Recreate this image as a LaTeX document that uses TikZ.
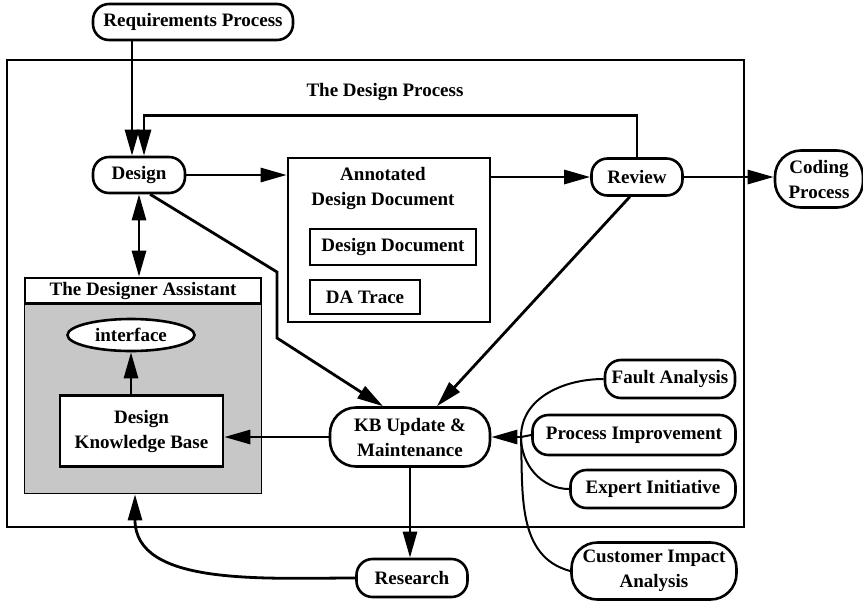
\documentclass[tikz,border=0pt]{standalone}
\usepackage{fontspec}
\setmainfont{Liberation Serif}
\usepackage{tikz}
\usetikzlibrary{calc}
\usetikzlibrary{arrows.meta}
\usetikzlibrary{shapes.geometric}

\begin{document}
\begin{tikzpicture}[%
    x=0.5pt, y=-0.5pt,
    font=\fontsize{9.5}{12.5}\selectfont\bfseries,
    process/.style={
      rectangle,
      rounded corners=8pt,
      draw=black,
      line width=1.3pt,
      align=center,
      inner sep=1pt,
      fill=white
    },
    block/.style={
      rectangle,
      draw=black,
      line width=1.3pt,
      align=center,
      inner sep=1pt
    },
    link/.style={line width=1.4pt},
    feed/.style={line width=1pt},
    shade/.style={fill=black!22},
    >={Triangle[length=13pt,width=7pt]}
    ]
    \useasboundingbox (0,0) rectangle (863,601);

    % outer process box
    \draw (375.5,293.5) node[block, line width=1.1pt, minimum width=368.5pt, minimum height=233.5pt] (dp) {};
    \draw (385,92) node (dptitle) {The Design Process};

    \draw (193,22) node[process, minimum width=100pt, minimum height=18pt] (req) {Requirements Process};
    \draw (139,175) node[process, minimum width=46pt, minimum height=18pt] (design) {Design};
    \draw (637,177) node[process, minimum width=45.5pt, minimum height=18.5pt] (review) {Review};
    \draw (819,179) node[process, rounded corners=13pt, minimum width=44pt, minimum height=28.5pt] (coding) {Coding\\Process};

    % annotated design document
    \draw (389,240) node[block, minimum width=101pt, minimum height=82pt] (annot) {};
    \draw (383,188) node[align=center] (annottext) {Annotated\\Design Document};
    \draw (393,247) node[block, minimum width=83pt, minimum height=18pt] (ddoc) {Design Document};
    \draw (365,297) node[block, minimum width=55pt, minimum height=17pt] (trace) {DA Trace};

    % designer assistant
    \draw (143,385.5) node[block, minimum width=118pt, minimum height=107.5pt] (da) {};
    \fill[shade] ([shift={(0.65pt,-13.5pt)}]da.north west) rectangle ([shift={(-0.65pt,0.65pt)}]da.south east);
    \draw[link] ([yshift=-13.5pt]da.north west) -- ([yshift=-13.5pt]da.north east);
    \draw (143,291) node (datitle) {The Designer Assistant};
    \draw (131,335) node[ellipse, draw=black, line width=1.3pt, fill=white, inner sep=0pt, minimum width=63.5pt, minimum height=16pt] (iface) {interface};
    \draw (141.5,431) node[block, fill=white, minimum width=81.5pt, minimum height=35.5pt] (dkb) {Design\\Knowledge Base};

    \draw (410,437) node[process, rounded corners=13pt, minimum width=80pt, minimum height=29.5pt] (kbu) {KB Update \&\\Maintenance};
    \draw (412,578) node[process, minimum width=55.5pt, minimum height=19pt] (research) {Research};

    \draw (670,379) node[process, minimum width=65pt, minimum height=19pt] (fault) {Fault Analysis};
    \draw (634,435) node[process, minimum width=101.5pt, minimum height=20pt] (procimp) {Process Improvement};
    \draw (653,489) node[process, minimum width=82.5pt, minimum height=19pt] (expert) {Expert Initiative};
    \draw (654,571) node[process, rounded corners=13pt, minimum width=82.5pt, minimum height=28.5pt] (cia) {Customer Impact\\Analysis};
    \coordinate (merge) at (521,437);

    \coordinate (din1) at ($(design.north)+(-7,0)$);
    \coordinate (din2) at ($(design.north)+(5,0)$);

    \draw[link,->] (req.south -| din1) -- (din1);
    \draw[link,->] (review.north) -- ++(0,-42) -| (din2);
    \draw[link,->] (design.east) -- (design.east -| annot.west);
    \draw[link,->] (review.west -| annot.east) -- (review.west);
    \draw[link,->] (review.east) -- (review.east -| coding.west);
    \draw[link,<->] (design.south) -- (design.south |- da.north);
    \draw[link,->] (design.-60) -- (277,272) -- (277,338) -- ($(kbu.north)+(-27,0)$);
    \draw[link,->] (review.-110) -- ($(kbu.north)+(27,0)$);
    \draw[link,->] (kbu.west) -- (kbu.west -| dkb.east);
    \draw[link,->] (dkb.north -| iface.south) -- (iface.south);
    \draw[link,->] (kbu.south) -- (kbu.south |- research.north);
    \draw[link,->] (research.west) to[out=180,in=-90] ($(da.south)+(-8,0)$);

    \draw[link,->] (merge) -- (kbu.east);
    \draw[feed] (fault.west) to[out=180,in=90] (merge);
    \draw[feed] (procimp.west) -- (merge);
    \draw[feed] (expert.west) to[out=180,in=-90] (merge);
    \draw[feed] (cia.west) to[out=165,in=-88] (merge);
\end{tikzpicture}
\end{document}
